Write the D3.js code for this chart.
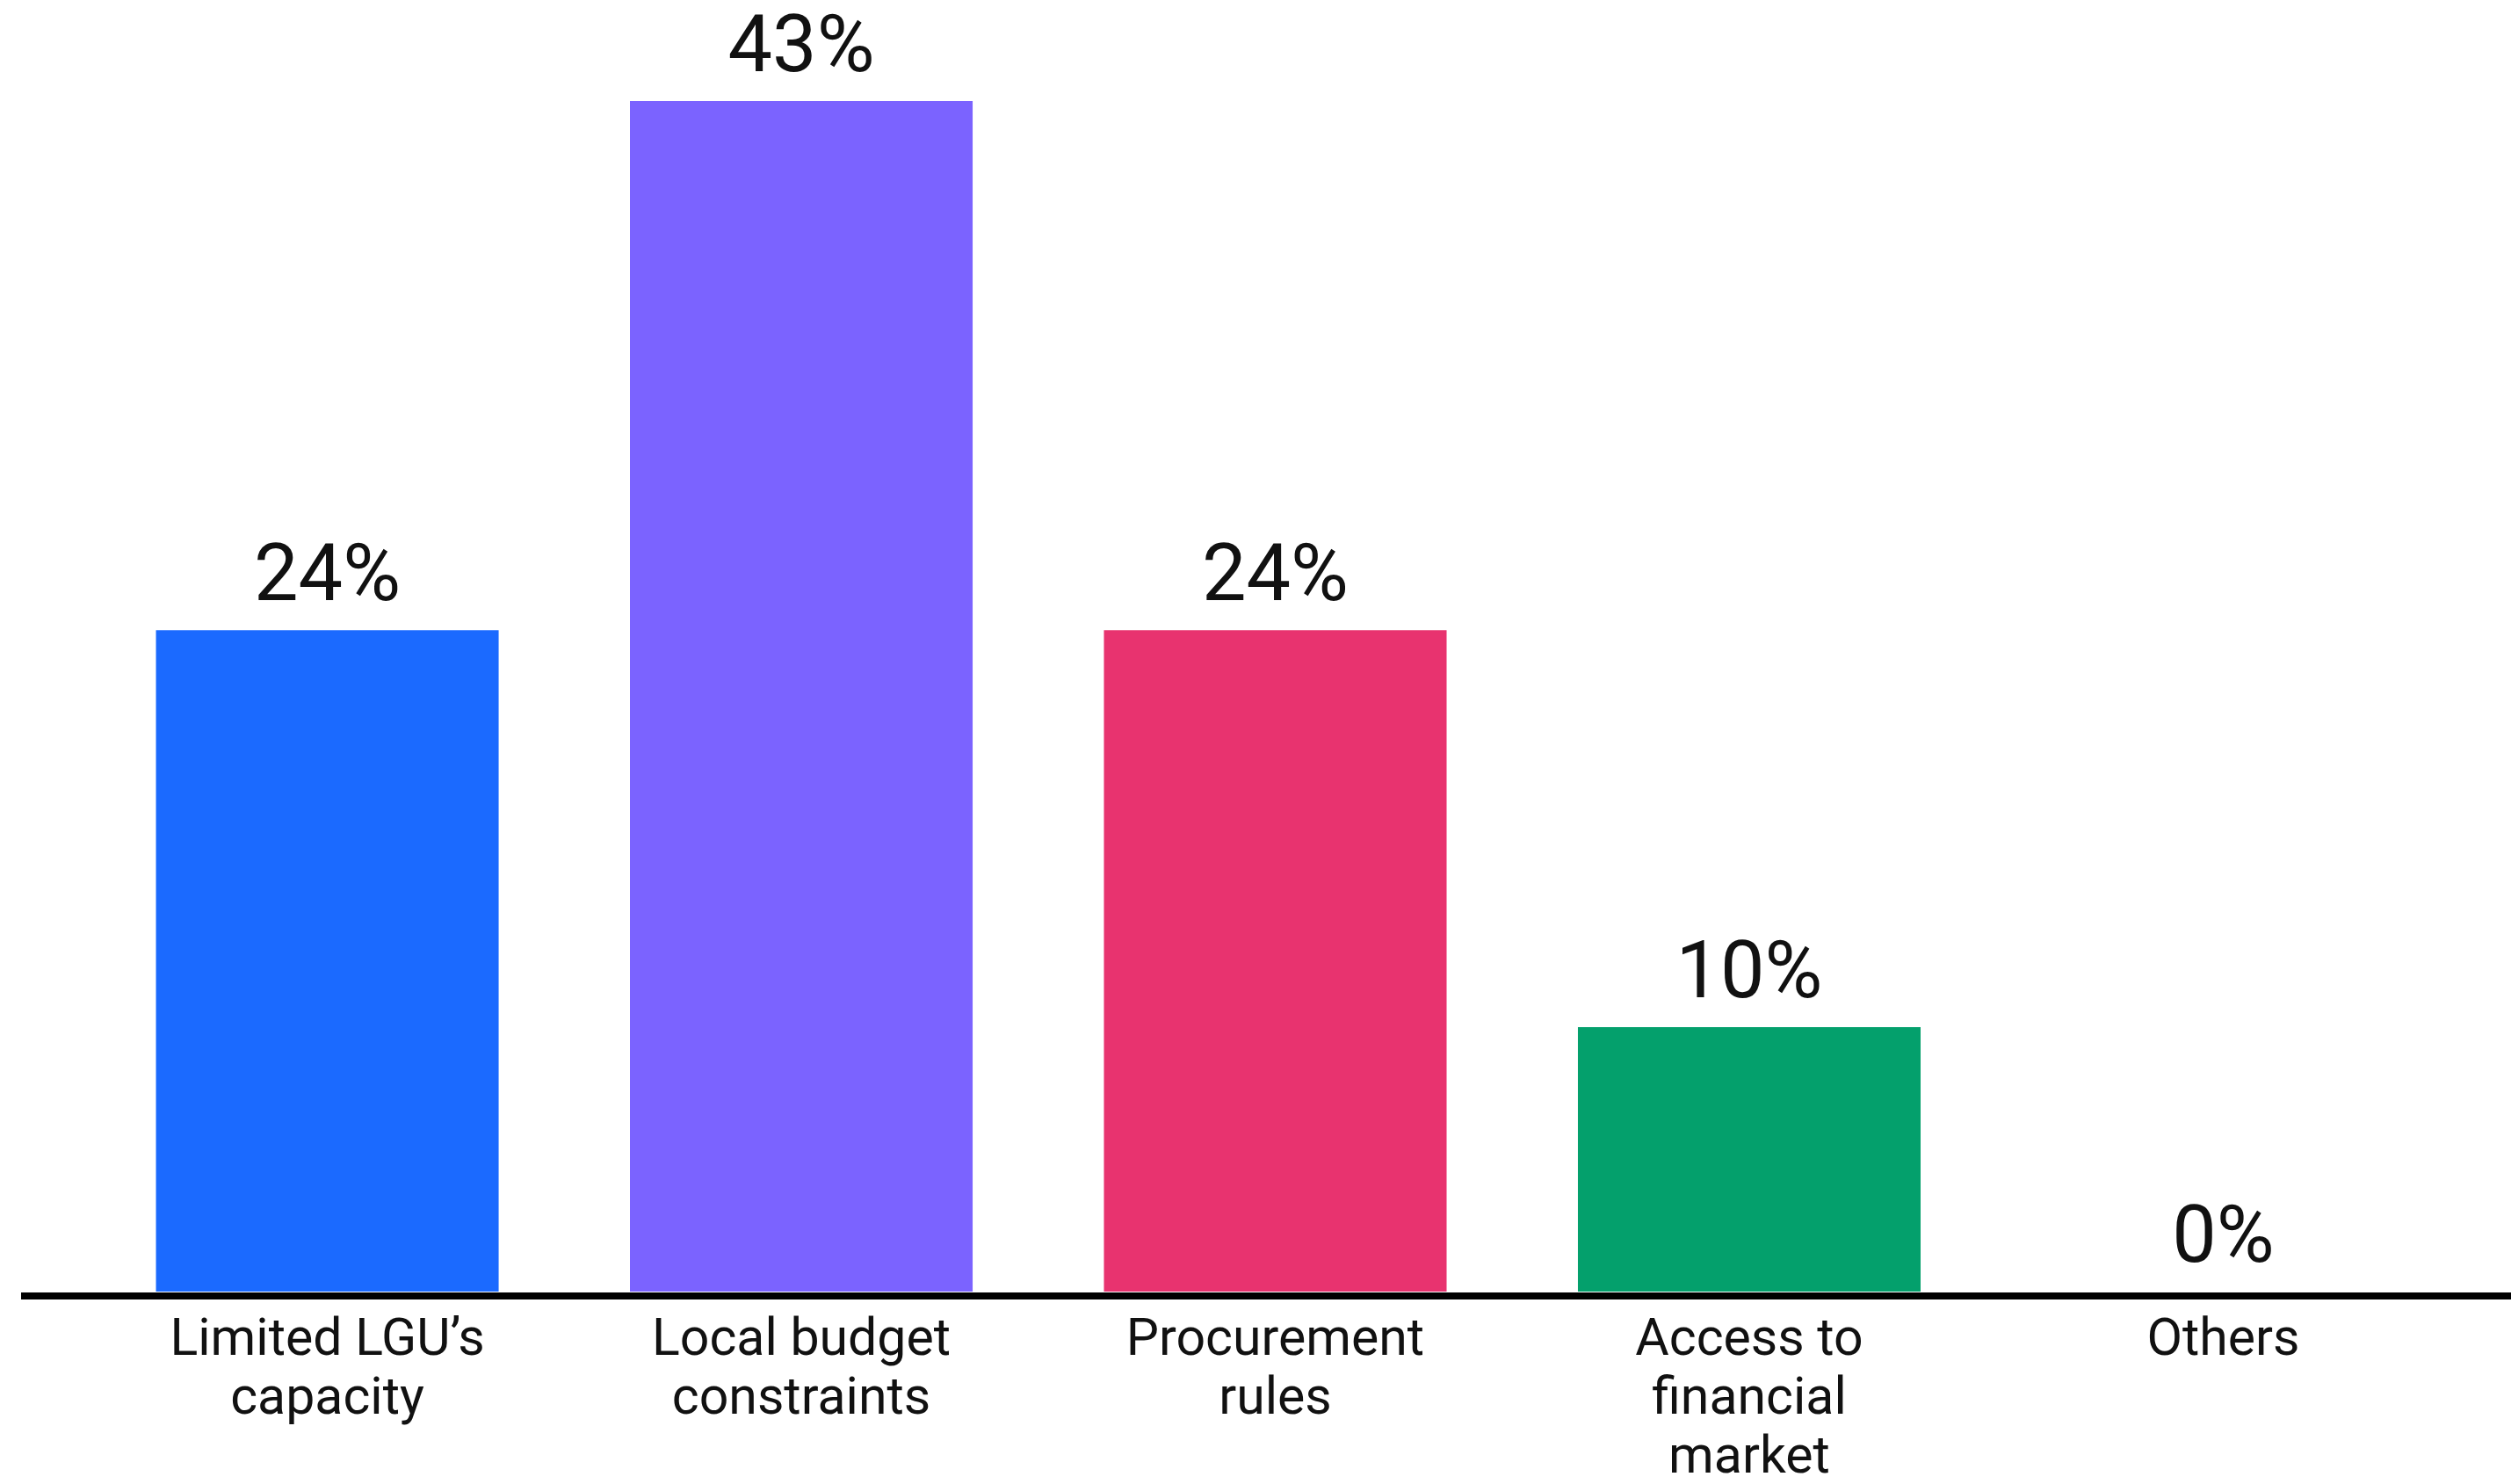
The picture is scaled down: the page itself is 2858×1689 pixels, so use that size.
<!DOCTYPE html>
<html>
<head>
<meta charset="utf-8">
<script src="https://cdn.jsdelivr.net/npm/d3@7"></script>
<style>
  html, body { margin: 0; padding: 0; background: #fff; }
  svg text { font-family: Roboto, "Noto Sans", sans-serif; fill: #111; }
</style>
</head>
<body>
<div id="chart"></div>
<script>
// shares of 21 answers, labels are rounded
const categories = ["Limited LGU’s capacity", "Local budget constraints", "Procurement rules", "Access to financial market", "Others"];
const labelLines = [["Limited LGU’s", "capacity"], ["Local budget", "constraints"], ["Procurement", "rules"], ["Access to", "financial", "market"], ["Others"]];
const values = [23.81, 42.86, 23.81, 9.52, 0];
const colors = ["#1b6aff", "#7b63ff", "#e8336f", "#04a06c", "#999999"];

const width = 2858, height = 1689;

const svg = d3.select("#chart").append("svg")
  .attr("width", width)
  .attr("height", height);

const x = d3.scaleBand()
  .domain(categories)
  .range([102, 2801])
  .paddingInner(0.277)
  .paddingOuter(0.14);

const y = d3.scaleLinear()
  .domain([0, 42.86])
  .range([1470, 115]);

const fmt = d3.format(".0f");

svg.selectAll("rect.bar")
  .data(values)
  .enter().append("rect")
  .attr("class", "bar")
  .attr("x", (d, i) => x(categories[i]))
  .attr("width", x.bandwidth())
  .attr("y", d => y(d))
  .attr("height", d => y(0) - y(d))
  .style("fill", (d, i) => colors[i]);

// baseline, runs almost full width
svg.append("line")
  .attr("x1", 24)
  .attr("x2", width)
  .attr("y1", y(0) + 5)
  .attr("y2", y(0) + 5)
  .style("stroke", "#000")
  .style("stroke-width", 8);

svg.selectAll("text.value")
  .data(values)
  .enter().append("text")
  .attr("class", "value")
  .attr("x", (d, i) => x(categories[i]) + x.bandwidth() / 2)
  .attr("y", d => y(d) - 34)
  .attr("text-anchor", "middle")
  .style("font-size", "90px")
  .text(d => fmt(d) + "%");

const cat = svg.selectAll("text.cat")
  .data(categories)
  .enter().append("text")
  .attr("class", "cat")
  .attr("text-anchor", "middle")
  .attr("transform", d => "translate(" + (x(d) + x.bandwidth() / 2) + ",1542)")
  .style("font-size", "59px");

cat.selectAll("tspan")
  .data((d, i) => labelLines[i])
  .enter().append("tspan")
  .attr("x", 0)
  .attr("y", (d, i) => i * 67)
  .text(d => d);
</script>
</body>
</html>
